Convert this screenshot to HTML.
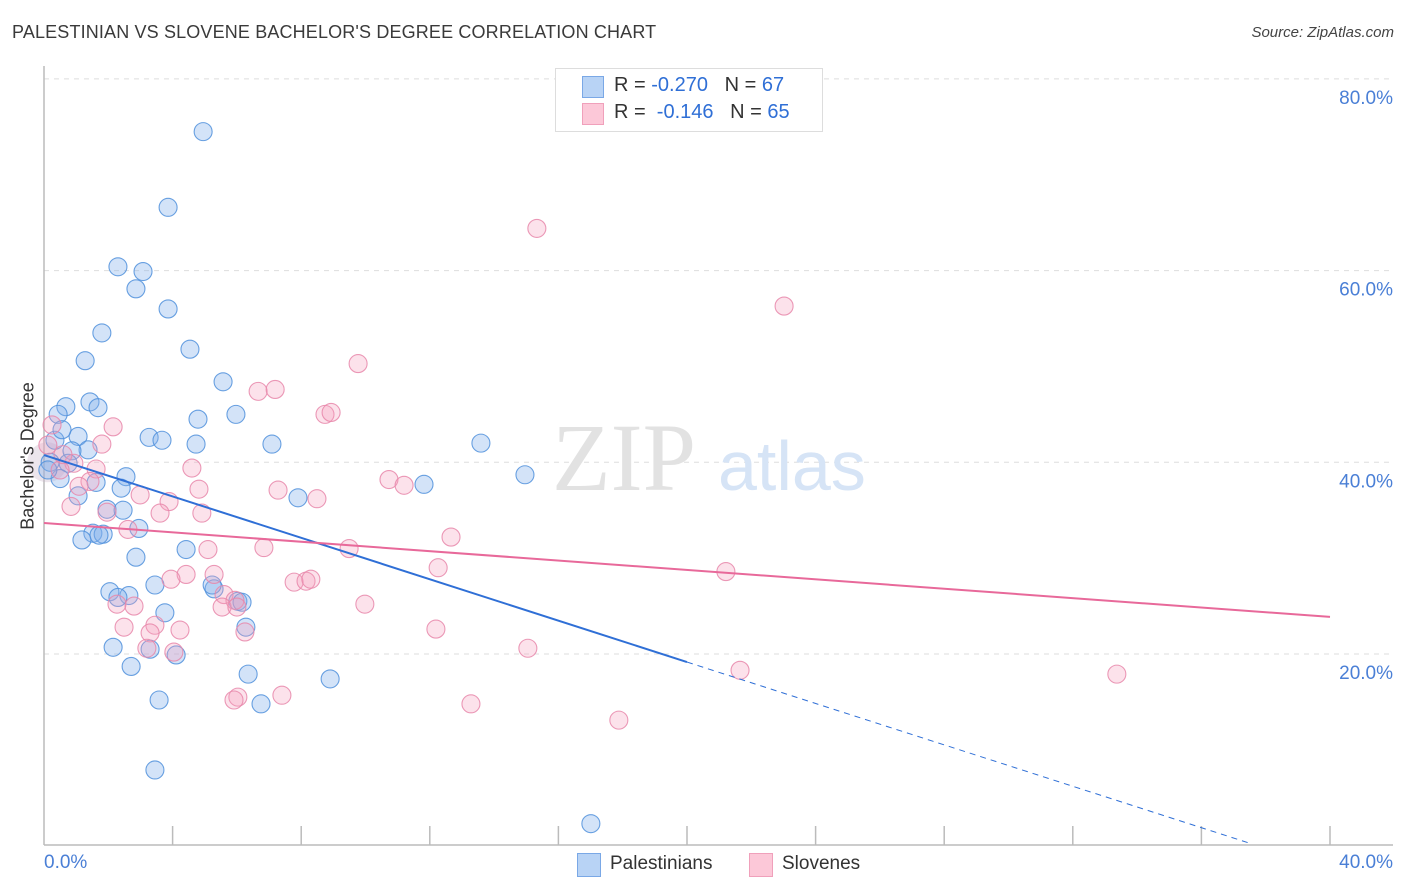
<!DOCTYPE html>
<html><head><meta charset="utf-8">
<style>
body{margin:0;background:#fff;font-family:"Liberation Sans",sans-serif;}
#wrap{position:relative;width:1406px;height:892px;overflow:hidden;}
.t{position:absolute;white-space:nowrap;}
</style></head><body>
<div id="wrap">
<div class="t" style="left:12px;top:22px;font-size:18px;letter-spacing:0.15px;color:#3a3a3a;">PALESTINIAN VS SLOVENE BACHELOR'S DEGREE CORRELATION CHART</div>
<div class="t" style="right:12px;top:24px;font-size:15px;color:#444;font-style:italic;">Source: ZipAtlas.com</div>
<svg id="svg" width="1406" height="892" style="position:absolute;left:0;top:0"></svg>
</div>
<script>
const blueX=[4.95,3.86,2.30,3.08,2.86,3.86,1.80,1.28,4.54,5.57,1.43,1.68,0.68,0.44,5.97,4.79,3.27,3.67,4.73,7.09,13.59,1.06,0.34,1.37,0.87,0.75,2.55,14.96,0.50,2.40,1.62,11.82,7.90,1.06,1.96,2.46,2.95,1.52,1.84,1.18,4.42,2.86,3.45,5.29,2.05,2.64,2.30,6.03,6.16,3.76,6.28,2.15,3.30,4.11,2.71,6.35,8.90,3.58,6.75,3.45,17.01,0.19,0.12,0.56,1.71,5.23];
const blueY=[74.5,66.6,60.4,59.9,58.1,56.0,53.5,50.6,51.8,48.4,46.3,45.7,45.8,45.0,45.0,44.5,42.6,42.3,41.9,41.9,42.0,42.7,42.3,41.3,41.2,39.9,38.5,38.7,38.3,37.3,37.9,37.7,36.3,36.5,35.1,35.0,33.1,32.6,32.5,31.9,30.9,30.1,27.2,26.8,26.5,26.1,25.9,25.5,25.4,24.3,22.8,20.7,20.5,19.9,18.7,17.9,17.4,15.2,14.8,7.9,2.3,40.0,39.2,43.4,32.4,27.2];
const pinkX=[15.33,23.02,9.77,6.66,7.19,8.74,8.93,2.15,0.25,1.80,0.93,1.62,4.60,0.50,1.43,1.09,10.73,11.20,7.28,4.82,8.49,2.99,3.89,0.84,1.96,3.61,4.91,12.66,2.61,9.49,5.10,6.84,21.21,4.42,12.26,3.95,5.29,7.78,8.15,8.30,5.60,5.94,2.27,2.80,5.54,6.00,9.98,2.49,3.45,4.23,3.30,6.25,12.19,3.20,4.04,15.05,21.65,33.37,6.03,5.91,7.40,13.28,17.88,0.59,0.12];
const pinkY=[64.4,56.3,50.3,47.4,47.6,45.0,45.2,43.7,43.9,41.9,39.9,39.3,39.4,39.2,38.0,37.5,38.2,37.6,37.1,37.2,36.2,36.6,35.9,35.4,34.8,34.7,34.7,32.2,33.0,31.0,30.9,31.1,28.6,28.3,29.0,27.8,28.3,27.5,27.6,27.8,26.2,25.6,25.2,25.0,24.9,24.9,25.2,22.8,23.0,22.5,22.2,22.3,22.6,20.6,20.2,20.6,18.3,17.9,15.5,15.2,15.7,14.8,13.1,40.8,41.8];
const blueTrend=[40.76,-1.08]; // intercept, slope
const pinkTrend=[33.67,-0.245];
const yTicks=[20,40,60,80];
const xTicks=[0,4,8,12,16,20,24,28,32,36,40];
const NS="http://www.w3.org/2000/svg";
const svg=document.getElementById('svg');
const sx=v=>44+v*32.15;
const sy=v=>654-(v-20)*9.585;
function mk(tag,attrs,parent){const e=document.createElementNS(NS,tag);for(const k in attrs)e.setAttribute(k,attrs[k]);(parent||svg).appendChild(e);return e;}
yTicks.forEach(v=>{
  const g=mk('line',{x1:44,x2:1393,y1:sy(v),y2:sy(v),stroke:'#ddd','stroke-dasharray':'5,5'});
  
  
  const t=mk('text',{x:1393,y:sy(v)+25,'text-anchor':'end','font-size':'19',fill:'#4a7fd6','font-family':'Liberation Sans'});
  t.textContent=v.toFixed(1)+'%';
  
  
});
xTicks.forEach(v=>{
  if(v===0)return;
  const l=mk('line',{x1:sx(v),x2:sx(v),y1:826,y2:845,stroke:'#bbb','stroke-width':1.5});
  
  
});
const ax=mk('line',{x1:44,x2:44,y1:66,y2:845,stroke:'#bbb','stroke-width':1.5});


const bx=mk('line',{x1:44,x2:1393,y1:845,y2:845,stroke:'#bbb','stroke-width':1.5});


const w1=mk('text',{x:552,y:490,'font-size':'96','font-family':'Liberation Serif',fill:'#e2e2e2'});w1.textContent='ZIP';


const w2=mk('text',{x:718,y:490,'font-size':'70','font-family':'Liberation Sans',fill:'#d6e4f6'});w2.textContent='atlas';


const big=mk('circle',{cx:sx(0.1),cy:sy(40),r:20,fill:'rgba(200,180,200,0.35)'});


blueX.forEach((x,i)=>{
  const c=mk('circle',{cx:sx(x),cy:sy(blueY[i]),r:9,fill:'rgba(130,175,235,0.35)',stroke:'rgba(80,145,220,0.85)','stroke-width':1.1});
  
  
});
pinkX.forEach((x,i)=>{
  const c=mk('circle',{cx:sx(x),cy:sy(pinkY[i]),r:9,fill:'rgba(245,160,190,0.3)',stroke:'rgba(232,135,170,0.85)','stroke-width':1.1});
  
  
});
const bt=x=>blueTrend[0]+blueTrend[1]*x;
const pt=x=>pinkTrend[0]+pinkTrend[1]*x;
const l1=mk('line',{x1:sx(0),y1:sy(bt(0)),x2:sx(20),y2:sy(bt(20)),stroke:'#2f6fd6','stroke-width':2});


const l2=mk('line',{x1:sx(20),y1:sy(bt(20)),x2:sx(37.5),y2:sy(bt(37.5)),stroke:'#2f6fd6','stroke-width':1,'stroke-dasharray':'6,5'});


const l3=mk('line',{x1:sx(0),y1:sy(pt(0)),x2:sx(40),y2:sy(pt(40)),stroke:'#e8699a','stroke-width':2});


</script>
<div class="t" style="left:28px;top:456px;font-size:18px;color:#333;transform:translate(-50%,-50%) rotate(-90deg);">Bachelor's Degree</div>
<div class="t" style="left:44px;top:852px;font-size:19px;color:#4a7fd6;">0.0%</div>
<div class="t" style="right:13px;top:852px;font-size:19px;color:#4a7fd6;">40.0%</div>
<div style="position:absolute;left:555px;top:68px;width:266px;height:62px;border:1px solid #ddd;background:#fff;font-size:20px;color:#333;">
  <div style="position:absolute;left:26px;top:7px;width:20px;height:20px;background:#b8d3f5;border:1px solid #7aa8e6;"></div>
  <div class="t" style="left:58px;top:5px;">R = <span style="color:#2f6fd6">-0.270</span>&nbsp;&nbsp;&nbsp;N = <span style="color:#2f6fd6">67</span></div>
  <div style="position:absolute;left:26px;top:34px;width:20px;height:20px;background:#fcc8d8;border:1px solid #f0a0bb;"></div>
  <div class="t" style="left:58px;top:32px;">R = &nbsp;<span style="color:#2f6fd6">-0.146</span>&nbsp;&nbsp;&nbsp;N = <span style="color:#2f6fd6">65</span></div>
</div>
<div style="position:absolute;left:577px;top:853px;font-size:19px;color:#333;">
  <div style="position:absolute;left:0;top:0;width:22px;height:22px;background:#b8d3f5;border:1px solid #7aa8e6;"></div>
  <div class="t" style="left:33px;top:0px;">Palestinians</div>
  <div style="position:absolute;left:172px;top:0;width:22px;height:22px;background:#fcc8d8;border:1px solid #f0a0bb;"></div>
  <div class="t" style="left:205px;top:0px;">Slovenes</div>
</div>
</body></html>
